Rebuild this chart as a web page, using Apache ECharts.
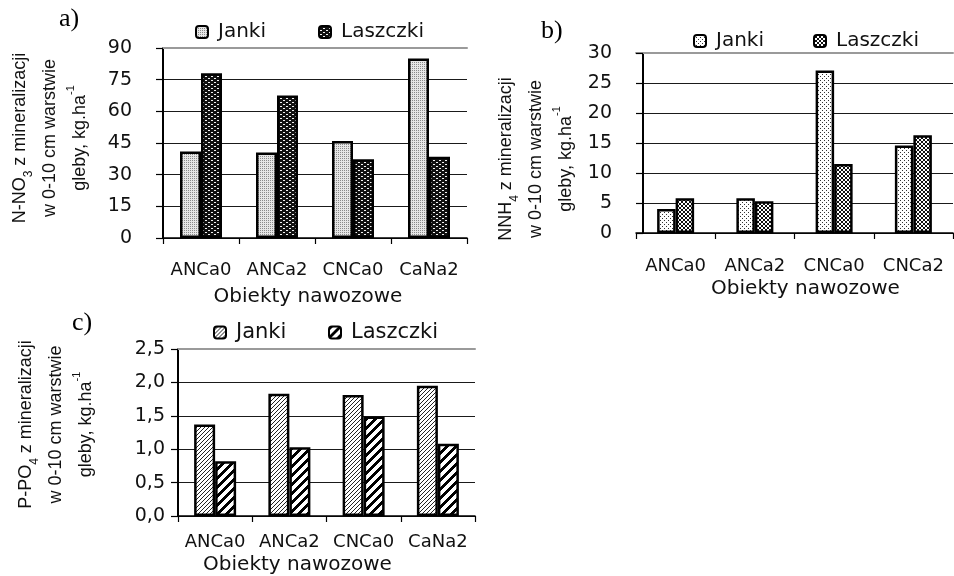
<!DOCTYPE html>
<html>
<head>
<meta charset="utf-8">
<script src="https://cdn.jsdelivr.net/npm/echarts@6/dist/echarts.min.js"></script>
<style>
  html, body { margin: 0; padding: 0; background: #fff; }
  #wrap { position: relative; width: 954px; height: 576px; }
  .panel { position: absolute; left: 0; top: 0; width: 954px; height: 576px; }
</style>
</head>
<body>
<div id="wrap">
  <div id="pa" class="panel"></div>
  <div id="pb" class="panel"></div>
  <div id="pc" class="panel"></div>
</div>
<script>
// Panel a) N-NO3
const catsA = ['ANCa0', 'ANCa2', 'CNCa0', 'CaNa2'];
const jankiA = [41.0, 40.5, 46.0, 85.0];
const laszczkiA = [78.0, 67.5, 37.3, 38.5];
const axisA = { min: 0, max: 90, step: 15 };

// Panel b) NH4
const catsB = ['ANCa0', 'ANCa2', 'CNCa0', 'CNCa2'];
const jankiB = [4.0, 5.8, 27.1, 14.6];
const laszczkiB = [5.8, 5.3, 11.5, 16.3];
const axisB = { min: 0, max: 30, step: 5 };

// Panel c) P-PO4
const catsC = ['ANCa0', 'ANCa2', 'CNCa0', 'CaNa2'];
const jankiC = [1.37, 1.83, 1.81, 1.95];
const laszczkiC = [0.82, 1.03, 1.49, 1.08];
const axisC = { min: 0, max: 2.5, step: 0.5 };

const seriesNames = ['Janki', 'Laszczki'];
const xTitle = 'Obiekty nawozowe';

const SANS = '"DejaVu Sans", Verdana, sans-serif';
const NAME_FONT = '"Liberation Sans", Arial, sans-serif';
const INK = '#111';

// Fill patterns built from tiny canvas tiles
function tile(w, h, bg, fg, on) {
  const c = document.createElement('canvas');
  c.width = w; c.height = h;
  const g = c.getContext('2d');
  g.fillStyle = bg; g.fillRect(0, 0, w, h);
  g.fillStyle = fg;
  for (let y = 0; y < h; y++) for (let x = 0; x < w; x++) if (on(x, y)) g.fillRect(x, y, 1, 1);
  return { image: c, repeat: 'repeat' };
}
const pat = {
  aJanki: tile(2, 2, '#e6e6e6', '#8a8a8a', (x, y) => x === 0 && y === 0),
  aLaszczki: tile(6, 4, '#111', '#f2f2f2', (x, y) => (y === 0 && (x === 1 || x === 2)) || (y === 2 && (x === 4 || x === 5))),
  bJanki: tile(4, 4, '#fff', '#333', (x, y) => (x === 0 && y === 0) || (x === 2 && y === 2)),
  bLaszczki: tile(4, 4, '#fff', '#111', (x, y) => x === y || x + y === 3),
  cJanki: tile(4, 4, '#fff', '#222', (x, y) => (x + y) % 4 === 3),
  cLaszczki: tile(9, 9, '#fff', '#000', (x, y) => (x + y) % 9 < 4)
};

function panelOption(p) {
  const fmt = p.decimals ? (v => v.toFixed(p.decimals).replace('.', ',')) : (v => String(v));
  const barStyle = fill => ({ color: fill, borderColor: '#000', borderWidth: 2.5 });
  const xBase = {
    type: 'category',
    data: p.cats,
    gridIndex: 0
  };
  const legendItem = (name, left) => ({
    data: [name], left: left, top: p.legendTop,
    itemWidth: 12, itemHeight: 12,
    textStyle: { fontFamily: SANS, fontSize: p.legendFont, color: INK, padding: [0, 0, 0, 5] }
  });
  return {
    animation: false,
    textStyle: { fontFamily: SANS, color: INK },
    grid: { left: p.grid[0], top: p.grid[1], width: p.grid[2], height: p.grid[3], containLabel: false },
    legend: [legendItem(seriesNames[0], p.legend[0]), legendItem(seriesNames[1], p.legend[1])],
    xAxis: [
      Object.assign({}, xBase, {
        position: 'bottom',
        axisLine: { lineStyle: { color: '#000', width: 1.5 } },
        axisTick: { show: true, length: 6, lineStyle: { color: '#000', width: 1.2 } },
        axisLabel: { interval: 0, hideOverlap: false, fontFamily: SANS, fontSize: 18, color: INK, margin: p.xLabelMargin },
        name: xTitle,
        nameLocation: 'middle',
        nameGap: p.xNameGap,
        nameTextStyle: { fontFamily: SANS, fontSize: 20, color: INK, padding: p.xNamePad }
      }),
      Object.assign({}, xBase, {
        position: 'top',
        axisLine: { lineStyle: { color: '#9a9a9a', width: 2 } },
        axisTick: { show: false },
        axisLabel: { show: false }
      })
    ],
    yAxis: {
      type: 'value',
      min: p.axis.min, max: p.axis.max, interval: p.axis.step,
      offset: p.yOffset || 0,
      axisLine: { show: true, lineStyle: { color: '#000', width: 2 } },
      axisTick: { show: true, length: 7, lineStyle: { color: '#000', width: 1.2 } },
      axisLabel: { fontFamily: SANS, fontSize: 19, color: INK, margin: p.yLabelMargin, formatter: fmt },
      splitLine: { show: true, showMaxLine: false, lineStyle: { color: '#1a1a1a', width: 1.2 } },
      name: p.yName,
      nameLocation: 'middle',
      nameRotate: 90,
      nameGap: p.yNameGap,
      nameTextStyle: {
        fontFamily: NAME_FONT, fontSize: 18, lineHeight: 30, color: INK,
        padding: p.yNamePad,
        rich: {
          sub: { fontFamily: NAME_FONT, fontSize: 12, lineHeight: 16, verticalAlign: 'bottom', color: INK },
          sup: { fontFamily: NAME_FONT, fontSize: 11, lineHeight: 22, verticalAlign: 'top', color: INK }
        }
      }
    },
    series: [
      {
        name: seriesNames[0], type: 'bar', xAxisIndex: 0, data: p.janki,
        barWidth: p.barWidth, barGap: '0%', itemStyle: barStyle(p.fills[0])
      },
      {
        name: seriesNames[1], type: 'bar', xAxisIndex: 0, data: p.laszczki,
        barWidth: p.barWidth, barGap: '0%', itemStyle: barStyle(p.fills[1])
      }
    ],
    graphic: [{
      type: 'text', left: p.tag[0], top: p.tag[1],
      style: { text: p.tagText, font: '26px "Liberation Serif", "Times New Roman", serif', fill: '#000' }
    }]
  };
}

const panels = [
  {
    el: 'pa', cats: catsA, janki: jankiA, laszczki: laszczkiA, axis: axisA,
    grid: [163, 48, 304, 190], barWidth: 21, fills: [pat.aJanki, pat.aLaszczki],
    legend: [190, 313], legendTop: 17, legendFont: 20,
    xLabelMargin: 23, xNameGap: 49, xNamePad: [0, 14, 0, 0],
    yLabelMargin: 31, yNameGap: 68, yNamePad: [0, 0, 0, 10],
    yName: 'N-NO{sub|3} z mineralizacji\nw 0-10 cm warstwie\ngleby, kg.ha{sup|-1}',
    tag: [59, 6], tagText: 'a)'
  },
  {
    el: 'pb', cats: catsB, janki: jankiB, laszczki: laszczkiB, axis: axisB,
    grid: [636, 53, 317, 180], yOffset: -7, barWidth: 18.5, fills: [pat.bJanki, pat.bLaszczki],
    legend: [688, 808], legendTop: 26, legendFont: 20,
    xLabelMargin: 24, xNameGap: 46, xNamePad: [0, 0, 0, 22],
    yLabelMargin: 31, yNameGap: 62, yNamePad: [0, 32, 0, 0],
    yName: 'NNH{sub|4} z mineralizacji\nw 0-10 cm warstwie\ngleby, kg.ha{sup|-1}',
    tag: [541, 18], tagText: 'b)'
  },
  {
    el: 'pc', cats: catsC, janki: jankiC, laszczki: laszczkiC, axis: axisC, decimals: 1,
    grid: [178, 349, 297, 169], barWidth: 21, fills: [pat.cJanki, pat.cLaszczki],
    legend: [208, 323], legendTop: 317, legendFont: 21,
    xLabelMargin: 17, xNameGap: 39, xNamePad: [0, 58, 0, 0],
    yLabelMargin: 13, yNameGap: 77, yNamePad: [0, 0, 0, 16],
    yName: 'P-PO{sub|4} z mineralizacji\nw 0-10 cm warstwie\ngleby, kg.ha{sup|-1}',
    tag: [72, 310], tagText: 'c)'
  }
];

panels.forEach(p => {
  const chart = echarts.init(document.getElementById(p.el), null, { renderer: 'canvas', width: 954, height: 576 });
  chart.setOption(panelOption(p));
});
</script>
</body>
</html>
